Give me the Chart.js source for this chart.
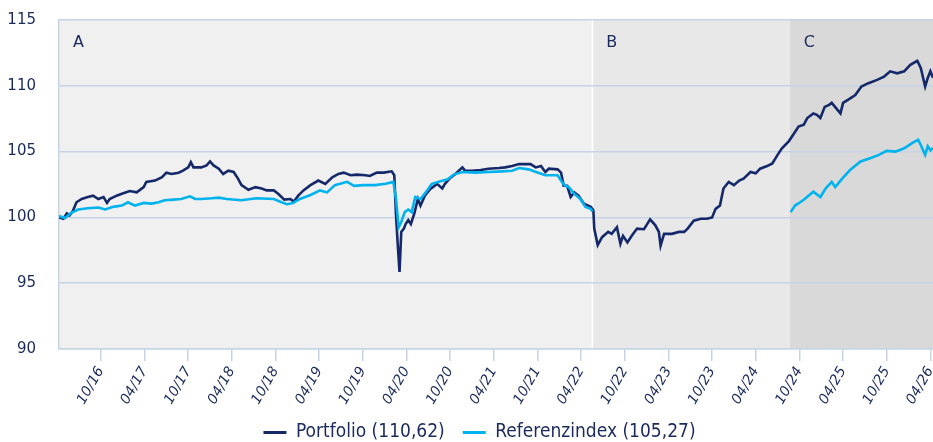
<!DOCTYPE html>
<html>
<head>
<meta charset="utf-8">
<script src="https://cdn.jsdelivr.net/npm/chart.js@4.4.1/dist/chart.umd.min.js"></script>
<style>
  html, body { margin: 0; padding: 0; background: #fff; }
</style>
</head>
<body>
<canvas id="chart" width="933" height="442"></canvas>
<script>
// Zeitachse in Dezimaljahren (2016.75 = 10/16)
var tickLabels = ['10/16', '04/17', '10/17', '04/18', '10/18', '04/19', '10/19', '04/20', '10/20', '04/21',
                  '10/21', '04/22', '10/22', '04/23', '10/23', '04/24', '10/24', '04/25', '10/25', '04/26'];

var portfolioDates = [
    2016.27, 2016.32, 2016.36, 2016.39, 2016.43, 2016.47, 2016.53, 2016.60, 2016.66, 2016.72,
    2016.78, 2016.82, 2016.85, 2016.93, 2016.99, 2017.08, 2017.16, 2017.24, 2017.27, 2017.37,
    2017.45, 2017.50, 2017.56, 2017.64, 2017.69, 2017.75, 2017.78, 2017.81, 2017.90, 2017.96,
    2018.00, 2018.04, 2018.10, 2018.15, 2018.21, 2018.27, 2018.32, 2018.36, 2018.44, 2018.52,
    2018.59, 2018.65, 2018.73, 2018.78, 2018.85, 2018.92, 2018.96, 2019.01, 2019.07, 2019.15,
    2019.24, 2019.32, 2019.40, 2019.47, 2019.53, 2019.61, 2019.68, 2019.78, 2019.83, 2019.91,
    2019.99, 2020.08, 2020.11, 2020.13, 2020.15, 2020.17, 2020.19, 2020.22, 2020.24, 2020.27,
    2020.30, 2020.34, 2020.38, 2020.41, 2020.46, 2020.52, 2020.60, 2020.66, 2020.69, 2020.75,
    2020.81, 2020.89, 2020.92, 2021.00, 2021.10, 2021.19, 2021.31, 2021.38, 2021.46, 2021.54,
    2021.62, 2021.67, 2021.73, 2021.79, 2021.84, 2021.88, 2021.98, 2022.02, 2022.05, 2022.09,
    2022.13, 2022.17, 2022.22, 2022.28, 2022.36, 2022.39, 2022.40, 2022.44, 2022.49, 2022.56,
    2022.60, 2022.66, 2022.70, 2022.73, 2022.78, 2022.83, 2022.89, 2022.97, 2023.04, 2023.10,
    2023.14, 2023.16, 2023.20, 2023.29, 2023.37, 2023.43, 2023.47, 2023.54, 2023.62, 2023.69,
    2023.75, 2023.79, 2023.84, 2023.88, 2023.94, 2024.00, 2024.06, 2024.11, 2024.19, 2024.25,
    2024.30, 2024.38, 2024.44, 2024.50, 2024.55, 2024.63, 2024.69, 2024.74, 2024.80, 2024.84,
    2024.91, 2024.95, 2024.99, 2025.04, 2025.09, 2025.12, 2025.17, 2025.22, 2025.25, 2025.31,
    2025.39, 2025.46, 2025.54, 2025.64, 2025.72, 2025.79, 2025.87, 2025.95, 2026.02, 2026.10,
    2026.14, 2026.19, 2026.22, 2026.25, 2026.28
];
var portfolioValues = [
    100.0, 99.9, 100.3, 100.15, 100.5, 101.15, 101.4, 101.55, 101.65, 101.4,
    101.55, 101.1, 101.4, 101.65, 101.8, 102.0, 101.9, 102.3, 102.7, 102.8,
    103.05, 103.4, 103.3, 103.4, 103.55, 103.8, 104.2, 103.8, 103.8, 103.95,
    104.25, 103.95, 103.7, 103.3, 103.55, 103.45, 102.95, 102.45, 102.1, 102.3,
    102.2, 102.05, 102.05, 101.8, 101.35, 101.4, 101.2, 101.65, 102.05, 102.45,
    102.8, 102.55, 103.05, 103.3, 103.4, 103.2, 103.25, 103.2, 103.15, 103.4,
    103.4, 103.5, 103.2, 100.15, 97.9, 95.85, 98.9, 99.15, 99.5, 99.8,
    99.5, 100.3, 101.4, 100.9, 101.65, 102.15, 102.55, 102.2, 102.55, 103.0,
    103.3, 103.8, 103.55, 103.55, 103.6, 103.7, 103.75, 103.8, 103.9, 104.05,
    104.05, 104.05, 103.8, 103.9, 103.45, 103.7, 103.65, 103.4, 102.4, 102.4,
    101.55, 101.9, 101.65, 101.05, 100.8, 100.55, 99.15, 97.9, 98.5, 98.9,
    98.75, 99.25, 98.0, 98.6, 98.1, 98.6, 99.15, 99.1, 99.85, 99.4,
    98.9, 97.85, 98.75, 98.75, 98.9, 98.9, 99.15, 99.75, 99.9, 99.9,
    100.0, 100.65, 100.9, 102.2, 102.7, 102.45, 102.8, 102.95, 103.45, 103.35,
    103.7, 103.9, 104.1, 104.75, 105.25, 105.8, 106.4, 106.9, 107.05, 107.55,
    107.9, 107.8, 107.55, 108.4, 108.55, 108.7, 108.3, 107.9, 108.7, 108.95,
    109.3, 109.95, 110.2, 110.45, 110.7, 111.1, 110.95, 111.1, 111.6, 111.9,
    111.35, 109.95, 110.6, 111.1, 110.62
];

// Referenzindex: Lücke zwischen Abschnitt A und C
var referenzDates = [
    2016.27, 2016.34, 2016.41, 2016.49, 2016.60, 2016.72, 2016.80, 2016.89, 2016.99, 2017.06,
    2017.14, 2017.24, 2017.33, 2017.41, 2017.48, 2017.58, 2017.67, 2017.77, 2017.83, 2017.90,
    2018.02, 2018.10, 2018.19, 2018.36, 2018.53, 2018.73, 2018.82, 2018.88, 2018.95, 2019.03,
    2019.15, 2019.26, 2019.34, 2019.43, 2019.57, 2019.65, 2019.76, 2019.89, 2020.01, 2020.10,
    2020.13, 2020.16, 2020.19, 2020.23, 2020.27, 2020.31, 2020.35, 2020.41, 2020.47, 2020.54,
    2020.62, 2020.72, 2020.79, 2020.89, 2021.04, 2021.19, 2021.35, 2021.46, 2021.54, 2021.65,
    2021.71, 2021.84, 2021.98, 2022.03, 2022.07, 2022.11, 2022.17, 2022.24, 2022.30, 2022.36,
    2022.38, 2023.50, 2024.65, 2024.70, 2024.76, 2024.81, 2024.91, 2024.99, 2025.05, 2025.12,
    2025.16, 2025.24, 2025.33, 2025.45, 2025.56, 2025.66, 2025.75, 2025.85, 2025.95, 2026.04,
    2026.11, 2026.14, 2026.19, 2026.22, 2026.25, 2026.28
];
var referenzValues = [
    100.1, 99.95, 100.35, 100.6, 100.7, 100.75, 100.6, 100.8, 100.9, 101.15,
    100.9, 101.1, 101.05, 101.15, 101.3, 101.35, 101.4, 101.6, 101.4, 101.4,
    101.45, 101.5, 101.4, 101.3, 101.45, 101.4, 101.15, 101.0, 101.1, 101.4,
    101.7, 102.05, 101.9, 102.45, 102.7, 102.4, 102.45, 102.45, 102.55, 102.7,
    101.4, 99.25, 99.65, 100.4, 100.6, 100.4, 101.55, 101.4, 101.9, 102.55,
    102.7, 102.9, 103.25, 103.45, 103.4, 103.45, 103.5, 103.55, 103.75, 103.65,
    103.5, 103.2, 103.2, 102.7, 102.4, 102.3, 101.8, 101.4, 100.8, 100.65,
    100.45, null, 100.4, 100.9, 101.15, 101.4, 101.95, 101.55, 102.2, 102.7,
    102.3, 102.95, 103.6, 104.25, 104.5, 104.75, 105.05, 105.0, 105.25, 105.65,
    105.9, 105.5, 104.75, 105.4, 105.1, 105.27
];

var regionNames = ['A', 'B', 'C'];
var regionStarts = [2016.27, 2022.378, 2024.64];
var regionColors = ['#f0f0f0', '#e8e8e8', '#d9d9d9'];

var navy = '#15296a';
var cyan = '#00b3ee';
var gridColor = '#c7d4e6';
var textColor = '#1b2a5c';

function labelToYear(label) {
    var p = label.split('/');
    return 2000 + parseInt(p[1], 10) + (parseInt(p[0], 10) - 1) / 12;
}

function toPoints(dates, values) {
    return dates.map(function(d, i) { return {x: d, y: values[i]}; });
}

// Hintergrund der Abschnitte A, B, C
var regionPlugin = {
    id: 'regions',
    afterLayout: function(chart) {
        // Legende etwas nach rechts rücken
        if (chart.legend) chart.legend.left = 26;
    },
    beforeDraw: function(chart) {
        var ctx = chart.ctx, area = chart.chartArea, xs = chart.scales.x;
        ctx.save();
        for (var i = 0; i < regionNames.length; i++) {
            var x0 = Math.max(area.left, xs.getPixelForValue(regionStarts[i]));
            var x1 = i + 1 < regionNames.length ? xs.getPixelForValue(regionStarts[i + 1]) : area.right;
            ctx.fillStyle = regionColors[i];
            ctx.fillRect(x0, area.top, x1 - x0, area.bottom - area.top);
            ctx.fillStyle = textColor;
            ctx.font = '16px "DejaVu Sans"';
            ctx.textBaseline = 'alphabetic';
            ctx.fillText(regionNames[i], x0 + 14, area.top + 27);
        }
        var xb = Math.round(xs.getPixelForValue(regionStarts[1])) + 0.5;
        ctx.strokeStyle = '#ffffff';
        ctx.lineWidth = 1.5;
        ctx.beginPath();
        ctx.moveTo(xb, area.top);
        ctx.lineTo(xb, area.bottom);
        ctx.stroke();
        ctx.restore();
    }
};

var chart = new Chart(document.getElementById('chart').getContext('2d'), {
    type: 'line',
    data: {
        datasets: [{
            label: 'Portfolio (110,62)',
            data: toPoints(portfolioDates, portfolioValues),
            borderColor: navy,
            backgroundColor: navy,
            borderWidth: 2.6,
            pointRadius: 0,
            tension: 0,
            order: 1
        }, {
            label: 'Referenzindex (105,27)',
            data: toPoints(referenzDates, referenzValues),
            borderColor: cyan,
            backgroundColor: cyan,
            borderWidth: 2.6,
            pointRadius: 0,
            tension: 0,
            spanGaps: false,
            order: 0
        }]
    },
    options: {
        responsive: false,
        animation: false,
        parsing: false,
        layout: { padding: { top: 20, right: 0, bottom: -10, left: 0 } },
        plugins: {
            tooltip: { enabled: false },
            legend: {
                position: 'bottom',
                labels: {
                    boxWidth: 23,
                    boxHeight: 3,
                    padding: 18,
                    color: textColor,
                    font: { family: '"DejaVu Sans Condensed", "DejaVu Sans", sans-serif', size: 19 },
                    sort: function(a, b) { return a.datasetIndex - b.datasetIndex; },
                    generateLabels: function(chart) {
                        var items = Chart.defaults.plugins.legend.labels.generateLabels(chart);
                        items.forEach(function(it) { it.lineWidth = 0; });
                        return items;
                    }
                }
            }
        },
        scales: {
            x: {
                type: 'linear',
                min: 2016.27,
                max: 2026.28,
                afterBuildTicks: function(scale) {
                    scale.ticks = tickLabels.map(function(l) { return {value: labelToYear(l)}; });
                },
                afterFit: function(scale) {
                    scale.height = 56;
                    scale.paddingLeft = 0;
                    scale.paddingRight = 0;
                },
                ticks: {
                    autoSkip: false,
                    minRotation: 60,
                    maxRotation: 60,
                    padding: 3,
                    color: textColor,
                    font: { family: '"DejaVu Sans"', size: 14, style: 'italic' },
                    callback: function(value) {
                        for (var i = 0; i < tickLabels.length; i++) {
                            if (Math.abs(labelToYear(tickLabels[i]) - value) < 0.01) return tickLabels[i];
                        }
                        return '';
                    }
                },
                grid: { drawOnChartArea: false, drawTicks: true, tickLength: 12, color: gridColor, lineWidth: 1.5 },
                border: { display: true, color: gridColor, width: 1.5 }
            },
            y: {
                min: 90,
                max: 115,
                afterFit: function(scale) {
                    scale.width = 59;
                    scale.paddingTop = 0;
                    scale.paddingBottom = 0;
                },
                ticks: {
                    stepSize: 5,
                    padding: 23,
                    color: textColor,
                    font: { family: '"DejaVu Sans"', size: 15 }
                },
                grid: { color: gridColor, lineWidth: 1.5, drawTicks: false },
                border: { display: true, color: gridColor, width: 1.5 }
            }
        }
    },
    plugins: [regionPlugin]
});
</script>
</body>
</html>
